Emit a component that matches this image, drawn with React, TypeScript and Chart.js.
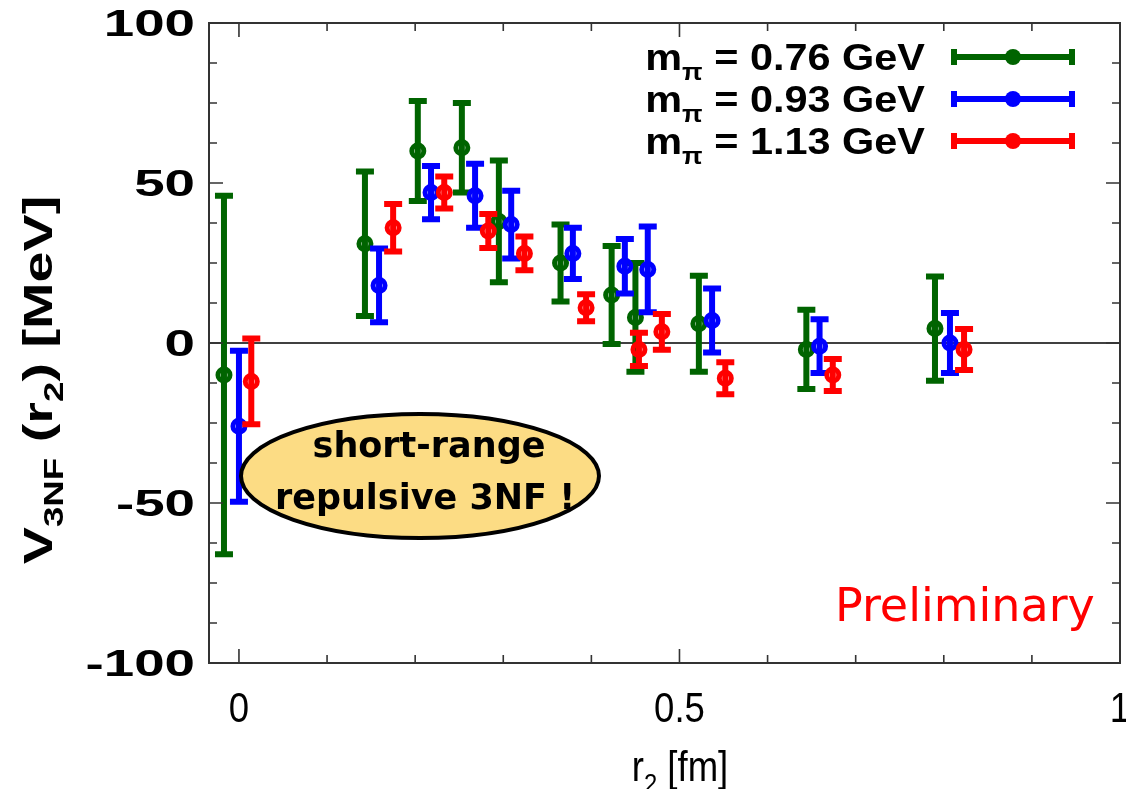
import React, { useEffect, useRef } from 'react';
import { Chart, registerables } from 'chart.js';

Chart.register(...registerables);

const W = 1126;
const H = 789;

// ---- data ----
const seriesNames = ['0.76 GeV', '0.93 GeV', '1.13 GeV'];
const seriesColors = ['#006400', '#0000ff', '#ff0000'];

const rGreen = [-0.017, 0.143, 0.203, 0.253, 0.295, 0.365, 0.423, 0.45, 0.522, 0.644, 0.79];
const vGreen = [-10, 31, 60, 61, 38, 25, 15, 8, 6, -2, 4.5];
const eGreen = [56, 22.6, 15.6, 14, 19, 12, 15.3, 17, 15, 12.4, 16.3];

const rBlue = [0.0, 0.159, 0.218, 0.268, 0.309, 0.379, 0.438, 0.464, 0.537, 0.659, 0.807];
const vBlue = [-26, 18, 47, 46, 37, 28, 24, 23, 7, -1, 0];
const eBlue = [23.6, 11.5, 8.3, 10, 10.6, 8, 8.5, 13.4, 10, 8.4, 9.4];

const rRed = [0.014, 0.175, 0.233, 0.283, 0.324, 0.394, 0.454, 0.48, 0.552, 0.674, 0.823];
const vRed = [-12, 36, 47, 35, 28, 11, -2, 3.5, -11, -10, -2];
const eRed = [13.4, 7.4, 5, 5.3, 5.3, 4.2, 5.2, 5.6, 5, 5, 6.4];

const xMin = -0.034;
const xMax = 1.0;
const yMin = -100;
const yMax = 100;

const xTickValues = [0, 0.1, 0.2, 0.3, 0.4, 0.5, 0.6, 0.7, 0.8, 0.9, 1.0];
const xLabelValues = [0, 0.5, 1];
const xLabelTexts = ['0', '0.5', '1'];

const yTickValues = [-100, -87.5, -75, -62.5, -50, -37.5, -25, -12.5, 0, 12.5, 25, 37.5, 50, 62.5, 75, 87.5, 100];
const yLabelValues = [-100, -50, 0, 50, 100];
const yLabelTexts = ['-100', '-50', '0', '50', '100'];

const annotationLines = ['short-range', 'repulsive 3NF !'];
const stampText = 'Preliminary';

type Seg = { t: string; sub?: boolean };

function drawRich(
  ctx: CanvasRenderingContext2D,
  segs: Seg[],
  x: number,
  y: number,
  size: number,
  weight: string,
  family: string,
  align: 'left' | 'right' | 'center',
  sx = 1,
  color = '#000'
) {
  const fontFor = (sub?: boolean) => `${weight} ${sub ? Math.round(size * 0.66) : size}px ${family}`;
  let total = 0;
  const widths = segs.map((s) => {
    ctx.font = fontFor(s.sub);
    const w = ctx.measureText(s.t).width;
    total += w;
    return w;
  });
  ctx.save();
  ctx.translate(x, y);
  ctx.scale(sx, 1);
  let cx = align === 'left' ? 0 : align === 'right' ? -total : -total / 2;
  ctx.fillStyle = color;
  ctx.textBaseline = 'alphabetic';
  ctx.textAlign = 'left';
  segs.forEach((s, i) => {
    ctx.font = fontFor(s.sub);
    ctx.fillText(s.t, cx, s.sub ? size * 0.28 : 0);
    cx += widths[i];
  });
  ctx.restore();
}

const errorSets = [eGreen, eBlue, eRed];
const SANS = '"Liberation Sans", Arial, sans-serif';
const DEJA = '"DejaVu Sans", Verdana, sans-serif';

const decorPlugin = {
  id: 'decor',
  beforeDatasetsDraw(chart: any) {
    const { ctx, chartArea: a, scales } = chart;
    const y0 = scales.y.getPixelForValue(0);
    ctx.save();
    ctx.strokeStyle = '#000';
    ctx.lineWidth = 1.6;
    ctx.beginPath();
    ctx.moveTo(a.left, y0);
    ctx.lineTo(a.right, y0);
    ctx.stroke();
    ctx.restore();
  },
  beforeDatasetDraw(chart: any, args: any) {
    const { ctx, scales } = chart;
    const ds = chart.data.datasets[args.index];
    const errs = errorSets[args.index];
    ctx.save();
    ctx.strokeStyle = ds.borderColor;
    ctx.lineWidth = 6;
    ctx.lineCap = 'butt';
    ds.data.forEach((p: any, i: number) => {
      const px = scales.x.getPixelForValue(p.x);
      const top = scales.y.getPixelForValue(p.y + errs[i]);
      const bot = scales.y.getPixelForValue(p.y - errs[i]);
      ctx.beginPath();
      ctx.moveTo(px, top);
      ctx.lineTo(px, bot);
      ctx.moveTo(px - 9, top);
      ctx.lineTo(px + 9, top);
      ctx.moveTo(px - 9, bot);
      ctx.lineTo(px + 9, bot);
      ctx.stroke();
    });
    ctx.restore();
  },
  afterDraw(chart: any) {
    const { ctx, chartArea: a, scales } = chart;
    const xs = scales.x;
    const ys = scales.y;
    ctx.save();
    // frame
    ctx.strokeStyle = '#333';
    ctx.lineWidth = 2;
    ctx.strokeRect(a.left, a.top, a.right - a.left, a.bottom - a.top);
    // ticks
    ctx.lineWidth = 1.6;
    ctx.beginPath();
    xTickValues.forEach((v) => {
      const px = xs.getPixelForValue(v);
      const len = xLabelValues.includes(v) ? 14 : 8;
      ctx.moveTo(px, a.bottom);
      ctx.lineTo(px, a.bottom - len);
      ctx.moveTo(px, a.top);
      ctx.lineTo(px, a.top + len);
    });
    yTickValues.forEach((v) => {
      const py = ys.getPixelForValue(v);
      const len = yLabelValues.includes(v) ? 14 : 8;
      ctx.moveTo(a.left, py);
      ctx.lineTo(a.left + len, py);
      ctx.moveTo(a.right, py);
      ctx.lineTo(a.right - len, py);
    });
    ctx.stroke();
    ctx.restore();

    // y tick labels
    yLabelValues.forEach((v, i) => {
      const py = ys.getPixelForValue(v);
      drawRich(ctx, [{ t: yLabelTexts[i] }], 195, py + 13, 36, 'bold', SANS, 'right', 1.52);
    });
    // x tick labels
    xLabelValues.forEach((v, i) => {
      const px = xs.getPixelForValue(v);
      drawRich(ctx, [{ t: xLabelTexts[i] }], px, 722, 43, 'normal', SANS, 'center', 0.85);
    });
    // x title
    drawRich(ctx, [{ t: 'r' }, { t: '2', sub: true }, { t: ' [fm]' }], 680, 781, 43, 'normal', SANS, 'center', 0.85);
    // y title (rotated)
    ctx.save();
    ctx.translate(52, 380);
    ctx.rotate(-Math.PI / 2);
    drawRich(
      ctx,
      [{ t: 'V' }, { t: '3NF', sub: true }, { t: ' (r' }, { t: '2', sub: true }, { t: ') [MeV]' }],
      0,
      0,
      41,
      'bold',
      SANS,
      'center',
      1.36
    );
    ctx.restore();

    // legend
    const rowsY = [57, 99, 141];
    rowsY.forEach((ry, i) => {
      drawRich(
        ctx,
        [{ t: 'm' }, { t: 'π', sub: true }, { t: ' = ' + seriesNames[i] }],
        925,
        ry + 13,
        37,
        'bold',
        SANS,
        'right',
        1.12
      );
      ctx.save();
      ctx.strokeStyle = seriesColors[i];
      ctx.fillStyle = seriesColors[i];
      ctx.lineWidth = 6;
      ctx.beginPath();
      ctx.moveTo(954, ry);
      ctx.lineTo(1072, ry);
      ctx.moveTo(954, ry - 8);
      ctx.lineTo(954, ry + 8);
      ctx.moveTo(1072, ry - 8);
      ctx.lineTo(1072, ry + 8);
      ctx.stroke();
      ctx.beginPath();
      ctx.arc(1013, ry, 8, 0, Math.PI * 2);
      ctx.fill();
      ctx.restore();
    });

    // annotation ellipse
    ctx.save();
    ctx.beginPath();
    ctx.ellipse(420, 476, 179, 62, 0, 0, Math.PI * 2);
    ctx.fillStyle = '#fcdc84';
    ctx.fill();
    ctx.lineWidth = 4;
    ctx.strokeStyle = '#000';
    ctx.stroke();
    ctx.restore();
    drawRich(ctx, [{ t: annotationLines[0] }], 429, 457, 35, 'bold', DEJA, 'center', 1);
    drawRich(ctx, [{ t: annotationLines[1] }], 425, 509, 35, 'bold', DEJA, 'center', 1);

    // Preliminary stamp
    drawRich(ctx, [{ t: stampText }], 835, 621, 46, 'normal', DEJA, 'left', 1, '#ff0000');
  },
};

export default function App() {
  const ref = useRef<HTMLCanvasElement | null>(null);
  useEffect(() => {
    if (!ref.current) return;
    const mk = (r: number[], v: number[]) => r.map((x, i) => ({ x, y: v[i] }));
    const chart = new Chart(ref.current, {
      type: 'scatter',
      data: {
        datasets: [
          { label: seriesNames[0], data: mk(rGreen, vGreen), borderColor: seriesColors[0], backgroundColor: 'rgba(0,0,0,0)', order: 2 },
          { label: seriesNames[1], data: mk(rBlue, vBlue), borderColor: seriesColors[1], backgroundColor: 'rgba(0,0,0,0)', order: 1 },
          { label: seriesNames[2], data: mk(rRed, vRed), borderColor: seriesColors[2], backgroundColor: 'rgba(0,0,0,0)', order: 0 },
        ].map((d) => ({ ...d, pointRadius: 6, pointHoverRadius: 6, borderWidth: 5, pointStyle: 'circle', showLine: false })),
      },
      options: {
        animation: false,
        responsive: false,
        devicePixelRatio: 1,
        layout: { autoPadding: false, padding: { left: 0, right: 6, top: 23, bottom: 0 } },
        plugins: { legend: { display: false }, tooltip: { enabled: false } },
        events: [],
        scales: {
          x: {
            type: 'linear',
            min: xMin,
            max: xMax,
            grid: { display: false, drawTicks: false },
            border: { display: false },
            ticks: { display: false },
            afterBuildTicks: (s: any) => {
              s.ticks = xTickValues.map((v) => ({ value: v }));
            },
            afterFit: (s: any) => {
              s.height = 126;
            },
          },
          y: {
            type: 'linear',
            min: yMin,
            max: yMax,
            grid: { display: false, drawTicks: false },
            border: { display: false },
            ticks: { display: false },
            afterBuildTicks: (s: any) => {
              s.ticks = yTickValues.map((v) => ({ value: v }));
            },
            afterFit: (s: any) => {
              s.width = 209;
            },
          },
        },
      },
      plugins: [decorPlugin],
    } as any);
    return () => chart.destroy();
  }, []);
  return (
    <div style={{ position: 'fixed', left: 0, top: 0, width: W, height: H, background: '#fff' }}>
      <canvas ref={ref} width={W} height={H} style={{ width: W, height: H, display: 'block' }} />
    </div>
  );
}
